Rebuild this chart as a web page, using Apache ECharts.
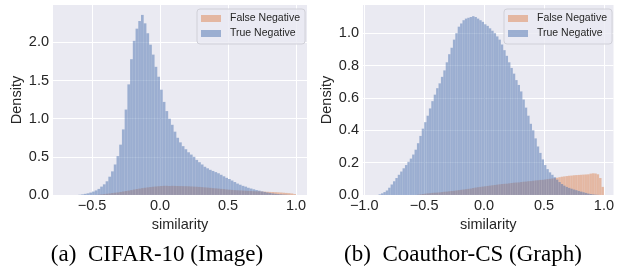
<!DOCTYPE html>
<html>
<head>
<meta charset="utf-8">
<script src="https://cdn.jsdelivr.net/npm/echarts@6/dist/echarts.min.js"></script>
<style>
  html, body { margin: 0; padding: 0; background: #fff; }
  #chart { width: 617px; height: 272px; }
</style>
</head>
<body>
<div id="chart"></div>
<script>
// histogram bin width (similarity)
const binWidth = 0.02;

// (a) CIFAR-10 - densities, bins start at binStart
const cifarTrueStart = -0.60;
const cifarTrue = [
  0.003, 0.008, 0.015, 0.022, 0.032, 0.045, 0.06, 0.08, 0.11, 0.14,
  0.18, 0.24, 0.31, 0.40, 0.51, 0.66, 0.86, 1.12, 1.45, 1.78,
  2.02, 2.18, 2.28, 2.36, 2.25, 2.12, 1.97, 1.84, 1.68, 1.55,
  1.38, 1.22, 1.10, 1.00, 0.92, 0.83, 0.75, 0.69, 0.64, 0.60,
  0.56, 0.53, 0.50, 0.46, 0.43, 0.40, 0.37, 0.35, 0.33, 0.315,
  0.30, 0.285, 0.265, 0.245, 0.225, 0.21, 0.19, 0.17, 0.15, 0.135,
  0.12, 0.11, 0.095, 0.085, 0.075, 0.065, 0.057, 0.048, 0.04, 0.033,
  0.027, 0.021, 0.016, 0.012, 0.009, 0.006, 0.004, 0.002
];
const cifarFalseStart = -0.46;
const cifarFalse = [
  0.004, 0.008, 0.012, 0.016, 0.02, 0.025, 0.03, 0.034, 0.04, 0.046,
  0.052, 0.058, 0.064, 0.072, 0.078, 0.084, 0.09, 0.095, 0.10, 0.104,
  0.108, 0.112, 0.115, 0.118, 0.12, 0.12, 0.118, 0.12, 0.119, 0.118,
  0.117, 0.116, 0.115, 0.114, 0.112, 0.11, 0.108, 0.106, 0.103, 0.10,
  0.097, 0.094, 0.09, 0.087, 0.084, 0.08, 0.077, 0.073, 0.07, 0.067,
  0.064, 0.062, 0.06, 0.058, 0.056, 0.054, 0.052, 0.05, 0.049, 0.048,
  0.046, 0.044, 0.042, 0.04, 0.039, 0.037, 0.035, 0.033, 0.03, 0.027,
  0.024, 0.02, 0.012
];

// (b) Coauthor-CS
const coauthorTrueStart = -0.88;
const coauthorTrue = [
  0.004, 0.01, 0.018, 0.028, 0.045, 0.065, 0.085, 0.105, 0.125, 0.145,
  0.165, 0.185, 0.205, 0.225, 0.25, 0.28, 0.32, 0.365, 0.41, 0.45,
  0.49, 0.535, 0.58, 0.62, 0.66, 0.69, 0.73, 0.77, 0.82, 0.87,
  0.91, 0.96, 1.0, 1.04, 1.06, 1.08, 1.09, 1.095, 1.10, 1.105,
  1.10, 1.09, 1.08, 1.07, 1.055, 1.045, 1.03, 1.015, 1.0, 0.98,
  0.96, 0.93, 0.895, 0.86, 0.82, 0.785, 0.75, 0.71, 0.68, 0.64,
  0.59, 0.54, 0.49, 0.44, 0.40, 0.35, 0.30, 0.26, 0.22, 0.185,
  0.16, 0.14, 0.125, 0.11, 0.095, 0.08, 0.068, 0.058, 0.05, 0.044,
  0.039, 0.034, 0.03, 0.025, 0.021, 0.017, 0.013, 0.009, 0.006, 0.004,
  0.002, 0.001
];
const coauthorFalseStart = -0.56;
const coauthorFalse = [
  0.002, 0.004, 0.006, 0.008, 0.01, 0.011, 0.013, 0.014, 0.015, 0.016,
  0.018, 0.02, 0.021, 0.023, 0.025, 0.026, 0.028, 0.03, 0.032, 0.034,
  0.036, 0.038, 0.04, 0.043, 0.046, 0.048, 0.05, 0.052, 0.054, 0.056,
  0.058, 0.06, 0.062, 0.064, 0.066, 0.068, 0.069, 0.07, 0.072, 0.074,
  0.076, 0.077, 0.078, 0.08, 0.082, 0.083, 0.085, 0.086, 0.088, 0.09,
  0.091, 0.093, 0.094, 0.096, 0.098, 0.10, 0.102, 0.104, 0.107, 0.11,
  0.113, 0.115, 0.117, 0.119, 0.12, 0.122, 0.123, 0.124, 0.125, 0.126,
  0.127, 0.128, 0.132, 0.134, 0.133, 0.128, 0.105, 0.05
];

const xTicks = [-1.0, -0.5, 0.0, 0.5, 1.0];
const yTicksA = [0.0, 0.5, 1.0, 1.5, 2.0];
const yTicksB = [0.0, 0.2, 0.4, 0.6, 0.8, 1.0];
const captions = ['(a)  CIFAR-10 (Image)', '(b)  Coauthor-CS (Graph)'];
const names = ['False Negative', 'True Negative'];

const blue = 'rgba(76, 114, 176, 0.5)';
const orange = 'rgba(221, 132, 82, 0.5)';
const textColor = '#262626';
const sans = 'Liberation Sans, Arial, sans-serif';

// turn a list of densities into [left, right, height] bins
function toBins(start, values) {
  return values.map((v, i) => {
    const x0 = +(start + i * binWidth).toFixed(4);
    return [x0, +(x0 + binWidth).toFixed(4), v];
  });
}

function renderBin(params, api) {
  const top = api.coord([api.value(0), api.value(2)]);
  const bottom = api.coord([api.value(1), 0]);
  return {
    type: 'rect',
    shape: { x: top[0], y: top[1], width: bottom[0] - top[0], height: bottom[1] - top[1] },
    style: api.style({ stroke: 'rgba(255,255,255,0.12)', lineWidth: 0.4 })
  };
}

function fmt(v) {
  return v.toFixed(1).replace('-', '\u2212');
}

function xAxis(idx, min, max) {
  return {
    gridIndex: idx,
    type: 'value',
    min: min,
    max: max,
    name: 'similarity',
    nameLocation: 'middle',
    nameGap: 17,
    nameTextStyle: { fontFamily: sans, fontSize: 14.5, color: textColor },
    axisLine: { show: false },
    axisTick: { show: false, customValues: xTicks },
    axisLabel: {
      customValues: xTicks,
      formatter: fmt,
      margin: 3,
      fontFamily: sans,
      fontSize: 14.5,
      color: textColor
    },
    splitLine: { show: true, lineStyle: { color: '#ffffff', width: 1 } }
  };
}

function yAxis(idx, max, ticks, gap) {
  return {
    gridIndex: idx,
    type: 'value',
    min: 0,
    max: max,
    name: 'Density',
    nameLocation: 'middle',
    nameGap: gap,
    nameTextStyle: { fontFamily: sans, fontSize: 14.5, color: textColor },
    axisLine: { show: false },
    axisTick: { show: false, customValues: ticks },
    axisLabel: {
      customValues: ticks,
      formatter: fmt,
      margin: 4,
      fontFamily: sans,
      fontSize: 14.5,
      color: textColor
    },
    splitLine: { show: true, lineStyle: { color: '#ffffff', width: 1 } }
  };
}

function histSeries(name, idx, color, start, values) {
  return {
    name: name,
    type: 'custom',
    xAxisIndex: idx,
    yAxisIndex: idx,
    renderItem: renderBin,
    encode: { x: [0, 1], y: 2 },
    itemStyle: { color: color },
    clip: true,
    silent: true,
    data: toBins(start, values)
  };
}

function legend(left) {
  return {
    data: names,
    orient: 'vertical',
    left: left,
    top: 9,
    padding: [4, 5, 5, 4],
    itemGap: 4,
    itemWidth: 20,
    itemHeight: 7,
    icon: 'rect',
    backgroundColor: 'rgba(234,234,242,0.8)',
    borderColor: '#d0d0d8',
    borderWidth: 1,
    borderRadius: 3,
    selectedMode: false,
    textStyle: { fontFamily: sans, fontSize: 10.5, color: textColor, padding: [0, 0, 0, 4] }
  };
}

const chart = echarts.init(document.getElementById('chart'), null, { renderer: 'canvas' });

chart.setOption({
  animation: false,
  backgroundColor: '#ffffff',
  title: [
    {
      text: captions[0], left: 152, top: 238, textAlign: 'center',
      textStyle: { fontFamily: 'Liberation Serif, Times New Roman, serif', fontSize: 23, fontWeight: 'normal', color: '#000' }
    },
    {
      text: captions[1], left: 458, top: 238, textAlign: 'center',
      textStyle: { fontFamily: 'Liberation Serif, Times New Roman, serif', fontSize: 23, fontWeight: 'normal', color: '#000' }
    }
  ],
  legend: [legend(197), legend(504)],
  grid: [
    { left: 53, top: 5, width: 254, height: 190, show: true, backgroundColor: '#EAEAF2', borderWidth: 0 },
    { left: 363, top: 5, width: 251, height: 190, show: true, backgroundColor: '#EAEAF2', borderWidth: 0 }
  ],
  xAxis: [xAxis(0, -0.787, 1.081), xAxis(1, -1.01, 1.08)],
  yAxis: [yAxis(0, 2.49, yTicksA, 22), yAxis(1, 1.174, yTicksB, 26)],
  series: [
    histSeries(names[0], 0, orange, cifarFalseStart, cifarFalse),
    histSeries(names[1], 0, blue, cifarTrueStart, cifarTrue),
    histSeries(names[0], 1, orange, coauthorFalseStart, coauthorFalse),
    histSeries(names[1], 1, blue, coauthorTrueStart, coauthorTrue)
  ]
});
</script>
</body>
</html>
